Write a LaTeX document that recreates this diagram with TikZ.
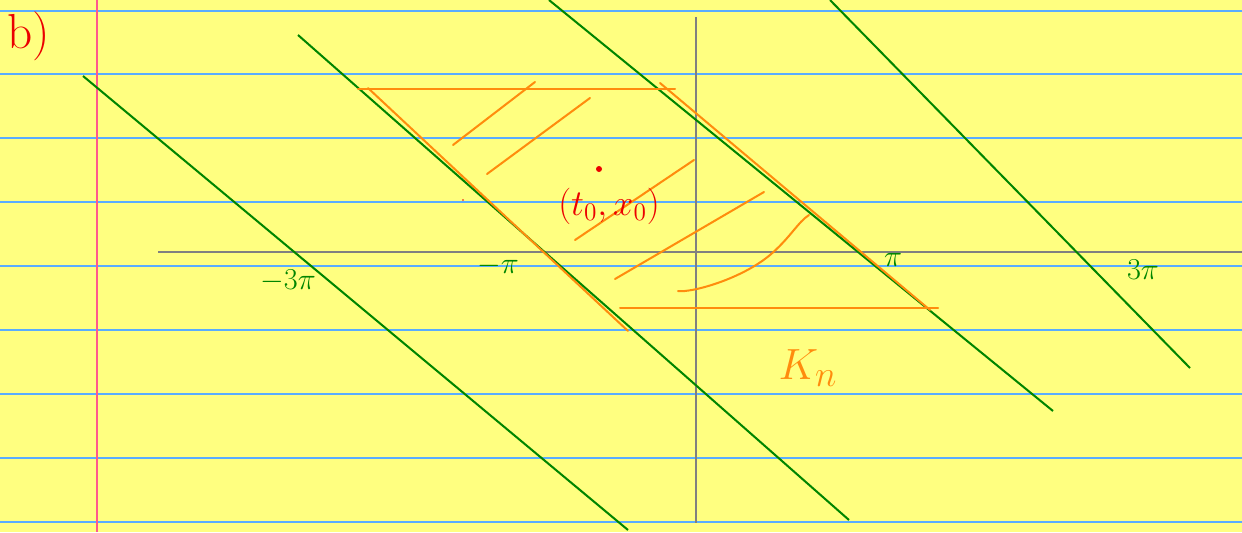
\documentclass[tikz,border=0pt]{standalone}
\usepackage{xcolor}
\usepackage{amsmath}
\usepackage{tikz}
\usetikzlibrary{positioning, calc}
\definecolor{padyellow}{rgb}{1.0, 1.0, 0.5}
\definecolor{ruleblue}{rgb}{0.35, 0.68, 1.0}
\definecolor{marginpink}{rgb}{1.0, 0.35, 0.55}
\definecolor{inkgreen}{rgb}{0.0, 0.52, 0.0}
\definecolor{inkorange}{rgb}{1.0, 0.55, 0.05}
\definecolor{inkred}{rgb}{0.92, 0.0, 0.0}
\definecolor{axisgray}{rgb}{0.5, 0.5, 0.5}
\tikzset{
  greenline/.style={inkgreen, line width=1.15pt},
  orangeline/.style={inkorange, line width=1.15pt, line cap=round},
  ticklabel/.style={inkgreen, font=\LARGE}
}

\begin{document}
\begin{tikzpicture}[x=0.02cm, y=-0.02cm]
    \useasboundingbox (0,0) rectangle (1242,532);
    \fill[padyellow] (0,0) rectangle (1242,532);
    % ruled paper
    \foreach \yy in {11,74,138,202,266,330,394,458,522}
      \draw[ruleblue, line width=0.7pt] (0,\yy) -- (1242,\yy);
    \draw[marginpink, line width=0.8pt] (97,0) -- (97,532);
    % axes
    \draw[axisgray, line width=1.1pt] (158,252) -- (1242,252);
    \draw[axisgray, line width=1.1pt] (696,17) -- (696,523);
    % lines x + t = const
    \draw[greenline] (83,76) -- (628,530);
    \draw[greenline] (298,35) -- (849,520);
    \draw[greenline] (549,0) -- (1053,411);
    \draw[greenline] (830,0) -- (1190,368);
    % the set K_n
    \draw[orangeline] (358,89) -- (675,89);
    \draw[orangeline] (620,308) -- (938,308);
    \draw[orangeline] (368,88) -- (628,331);
    \draw[orangeline] (660,83) -- (930,310);
    % hatching
    \draw[orangeline] (453,145) -- (535,82);
    \draw[orangeline] (487,174) -- (590,98);
    \draw[orangeline] (575,240) -- (694,160);
    \draw[orangeline] (615,279) -- (764,192);
    \draw[orangeline] (678,291) .. controls (690,293) and (740,280) .. (770,255) .. controls (790,238) and (798,222) .. (809,215);
    % point
    \fill[inkred] (599,169) circle (3);
    \fill[inkred] (463,200) circle (0.8);
    \node[inkred, font=\huge] (pt) at (609,206) {$(t_0,x_0)$};
    \node[inkred, font=\fontsize{28}{32}\selectfont] (part) at (29,36) {b)};
    % labels
    \node[ticklabel] (m3pi) at (288,281) {$-3\pi$};
    \node[ticklabel] (mpi) at (498,266) {$-\pi$};
    \node[ticklabel] (pi) at (893,260) {$\pi$};
    \node[ticklabel] (p3pi) at (1143,270) {$3\pi$};
    \node[inkorange, font=\fontsize{32}{38}\selectfont] (kn) at (808,368) {$K_n$};
\end{tikzpicture}
\end{document}
